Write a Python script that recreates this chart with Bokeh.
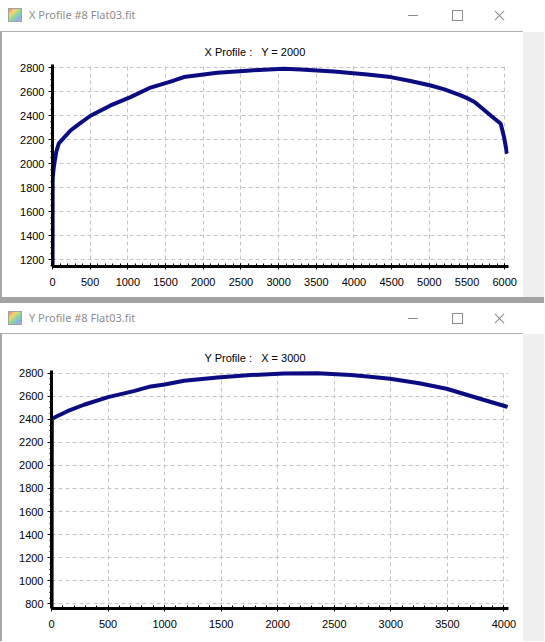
from bokeh.plotting import figure
from bokeh.layouts import column, row
from bokeh.models import Div, SingleIntervalTicker, Range1d
from bokeh.embed import file_html
from bokeh.resources import INLINE

# ---------------- data ----------------
win1_title = "X Profile #8 Flat03.fit"
win2_title = "Y Profile #8 Flat03.fit"
plot1_title = "X Profile :\u00a0\u00a0 Y = 2000"
plot2_title = "Y Profile :\u00a0\u00a0 X = 3000"

# X profile (row Y = 2000): pixel column -> ADU
xprof_pos = [0, 2, 4, 15, 31, 50, 84, 120, 239, 350, 504, 770, 1035, 1301, 1566,
             1743, 2186, 2628, 3071, 3292, 3734, 4177, 4487, 4750, 5018, 5200,
             5416, 5500, 5600, 5814, 5947, 5991, 6027, 6035]
xprof_val = [0, 1860, 1888, 1960, 2027, 2100, 2170, 2195, 2277, 2330, 2400, 2486,
             2555, 2635, 2685, 2722, 2758, 2778, 2792, 2786, 2769, 2744, 2722,
             2690, 2652, 2620, 2570, 2547, 2515, 2402, 2333, 2222, 2097, 2085]

# Y profile (column X = 3000): pixel row -> ADU
yprof_pos = [0, 3, 141, 287, 500, 727, 878, 1000, 1172, 1467, 1761, 2056, 2351,
             2645, 2793, 2993, 3250, 3493, 3817, 4020, 4031]
yprof_val = [0, 2405, 2470, 2526, 2592, 2644, 2685, 2702, 2734, 2763, 2783, 2797,
             2800, 2783, 2771, 2751, 2712, 2665, 2569, 2511, 2505]

x1_step, y1_step = 500, 200
x2_step, y2_step = 500, 200

FONT = "Liberation Sans"
LINE = "#0c0c82"
FIG_W = 521


def make_fig(xs, vs, title, xr, yr, height, mbl, mbt, mbb, title_offset,
             xstep, ystep):
    p = figure(width=FIG_W, height=height, x_range=Range1d(*xr), y_range=Range1d(*yr),
               output_backend="svg", toolbar_location=None,
               min_border_left=mbl, min_border_right=15,
               min_border_top=mbt, min_border_bottom=mbb)
    p.outline_line_color = None
    p.background_fill_color = "white"
    p.border_fill_color = "white"
    p.title.text = title
    p.title.align = "left"
    p.title.offset = title_offset
    p.title.text_font = FONT
    p.title.text_font_size = "11px"
    p.title.text_font_style = "normal"
    p.title.text_color = "black"
    p.title.standoff = 14

    p.line(xs, vs, line_color=LINE, line_width=4)

    p.xaxis.ticker = SingleIntervalTicker(interval=xstep, num_minor_ticks=5)
    p.yaxis.ticker = SingleIntervalTicker(interval=ystep, num_minor_ticks=4)
    p.xgrid.ticker = p.xaxis.ticker
    p.ygrid.ticker = p.yaxis.ticker
    for ax in (p.xaxis, p.yaxis):
        ax.axis_line_width = 3
        ax.axis_line_color = "black"
        ax.major_tick_line_color = "black"
        ax.minor_tick_line_color = "black"
        ax.major_label_text_font = FONT
        ax.major_label_text_font_size = "11px"
        ax.major_label_text_color = "black"
    p.xaxis.major_tick_in = 3
    p.xaxis.major_tick_out = 3
    p.xaxis.minor_tick_in = 3
    p.xaxis.minor_tick_out = 0
    p.xaxis.major_label_standoff = 8
    p.yaxis.major_tick_in = 0
    p.yaxis.major_tick_out = 4
    p.yaxis.minor_tick_in = 0
    p.yaxis.minor_tick_out = 2
    p.yaxis.major_label_standoff = 4

    for g in (p.xgrid, p.ygrid):
        g.grid_line_color = "#c4c4c4"
        g.grid_line_dash = "4 3"
        g.grid_line_width = 1
    return p


def titlebar(text, h, top):
    html = f"""
<div style="position:relative;width:544px;height:{h}px;background:#ffffff;overflow:hidden;">
  <div style="position:absolute;left:0px;top:{h - 1}px;width:523px;height:1px;background:#b0b0b0;"></div>
  <div style="position:absolute;left:8px;top:{top}px;width:14px;height:14px;
  box-sizing:border-box;border:1px solid #a0a0a0;
  background:linear-gradient(135deg,#f08080 0%,#f5d76e 30%,#8fd694 55%,#7fb8f0 78%,#c39be0 100%);"></div>
  <div style="position:absolute;left:29px;top:{top}px;font-family:'Noto Sans',sans-serif;
  font-size:11px;line-height:14px;color:#8c8c8c;white-space:nowrap;">{text}</div>
  <div style="position:absolute;left:408px;top:{top + 7}px;width:10px;height:0px;
  border-top:1px solid #8c8c8c;"></div>
  <div style="position:absolute;left:452px;top:{top + 2}px;width:11px;height:11px;
  box-sizing:border-box;border:1px solid #8c8c8c;"></div>
  <div style="position:absolute;left:493px;top:{top + 7}px;width:13px;height:0px;
  border-top:1px solid #8c8c8c;transform:rotate(45deg);"></div>
  <div style="position:absolute;left:493px;top:{top + 7}px;width:13px;height:0px;
  border-top:1px solid #8c8c8c;transform:rotate(-45deg);"></div>
</div>"""
    return Div(text=html, width=544, height=h, margin=0)


def strip(w, h, color):
    return Div(text="", width=w, height=h, margin=0,
               styles={"background-color": color})


p1 = make_fig(xprof_pos, xprof_val, plot1_title, (0, 6050), (1144, 2827),
              265, 50, 32, 31, 152, x1_step, y1_step)
p2 = make_fig(yprof_pos, yprof_val, plot2_title, (0, 4040), (759, 2823),
              307, 49, 36, 33, 153, x2_step, y2_step)

sep = strip(544, 6, "#a3a3a3")

layout = column(
    titlebar(win1_title, 32, 8),
    row(strip(2, 265, "#a8a8a8"), p1, strip(21, 265, "#f0f0f0"), spacing=0),
    sep,
    titlebar(win2_title, 31, 8),
    row(strip(2, 307, "#a8a8a8"), p2, strip(21, 307, "#f0f0f0"), spacing=0),
    spacing=0,
)

open("out.html", "w").write(file_html(layout, INLINE))
